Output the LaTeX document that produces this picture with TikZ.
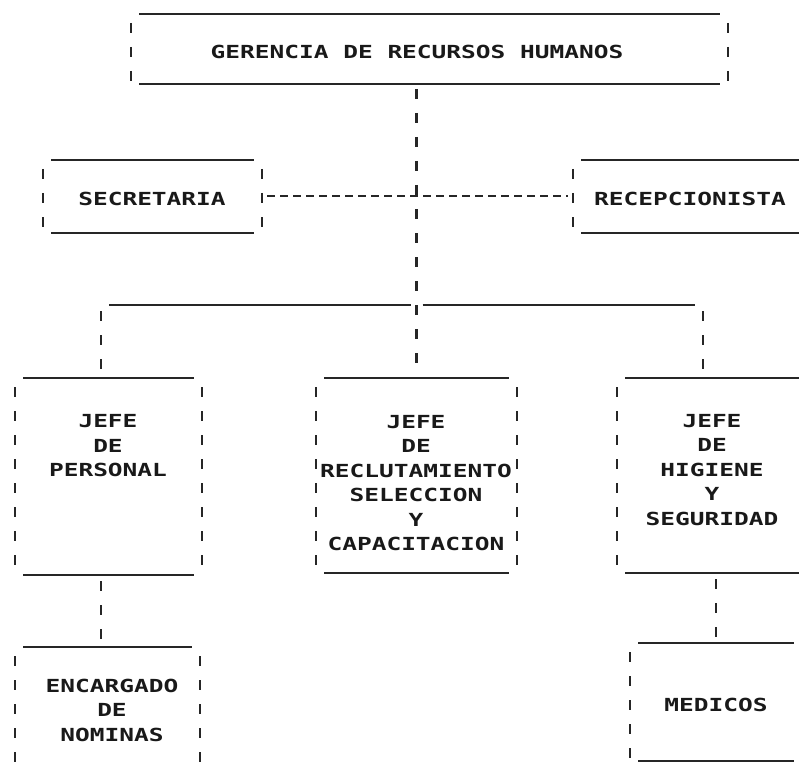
\documentclass[tikz,border=0pt]{standalone}
\usepackage{fontspec}
\newfontfamily\orgfont[FakeStretch=1.36]{DejaVu Sans Mono}
\begin{document}
\begin{tikzpicture}[x=1pt,y=-1pt,
  frame/.style={inner sep=0pt, outer sep=0pt, minimum width=#1},
  txt/.style={inner sep=0pt, align=center, text=black!90,
    font=\orgfont\bfseries\fontsize{18}{24.5}\selectfont},
  hl/.style={line width=2.2pt, black!85},
  vl/.style={line width=2.8pt, black!85, dash pattern=on 10pt off 14pt},
  cdash/.style={line width=2pt, black!85, dash pattern=on 8pt off 5pt},
]
\useasboundingbox (0,0) rectangle (800,762);
\clip (0,0) rectangle (800,762);

% frames
\node[frame=597pt, minimum height=70pt]  (ger) at (429.5,49) {};
\node[frame=219pt, minimum height=73pt]  (sec) at (152.5,196.5) {};
\node[frame=234pt, minimum height=73pt]  (rec) at (690,196.5) {};
\node[frame=187pt, minimum height=197pt] (fL)  at (108.5,476.5) {};
\node[frame=201pt, minimum height=195pt] (fM)  at (416.5,475.5) {};
\node[frame=190pt, minimum height=195pt] (fR)  at (712,475.5) {};
\node[frame=185pt, minimum height=125pt] (fE)  at (107.5,709.5) {};
\node[frame=172pt, minimum height=118pt] (fD)  at (716,702) {};

% texts
\node[txt] (tger) at (417,52)  {GERENCIA DE RECURSOS HUMANOS};
\node[txt] (tsec) at (152,199) {SECRETARIA};
\node[txt] (trec) at (690,199) {RECEPCIONISTA};
\node[txt] (tL)   at (108,446) {JEFE\\DE\\PERSONAL};
\node[txt] (tM)   at (416,483) {JEFE\\DE\\RECLUTAMIENTO\\SELECCION\\Y\\CAPACITACION};
\node[txt] (tR)   at (712,470) {JEFE\\DE\\HIGIENE\\Y\\SEGURIDAD};
\node[txt] (tE)   at (112,710) {ENCARGADO\\DE\\NOMINAS};
\node[txt] (tD)   at (716,705) {MEDICOS};

% frame drawing
\foreach \b in {ger,sec,rec,fL,fM,fR,fE,fD}{
  \draw[hl] ([xshift=8pt]\b.north west) -- ([xshift=-8pt]\b.north east);
  \draw[hl] ([xshift=8pt]\b.south west) -- ([xshift=-8pt]\b.south east);
  \draw[vl] ([yshift=-9pt]\b.north west) -- (\b.south west);
  \draw[vl] ([yshift=-9pt]\b.north east) -- (\b.south east);
}

% connectors
\coordinate (bL) at (101,305);
\coordinate (bR) at (703,305);
\coordinate (bC) at (fM.north |- bL);
\draw[vl] ([yshift=-5pt]fM.north |- ger.south) -- (fM.north);
\draw[cdash] ([xshift=5pt]sec.east) -- ([xshift=-5pt]rec.west);
\draw[hl] ([xshift=8pt]bL) -- ([xshift=-6pt]bC);
\draw[hl] ([xshift=6pt]bC) -- ([xshift=-8pt]bR);
\draw[vl] ([yshift=-6pt]bL) -- (bL |- fL.north);
\draw[vl] ([yshift=-6pt]bR) -- (bR |- fR.north);
\draw[vl] ([yshift=-6pt]fL.south -| bL) -- (fE.north -| bL);
\draw[vl] ([yshift=-6pt]fR.south -| fD.north) -- (fD.north);
\end{tikzpicture}
\end{document}
